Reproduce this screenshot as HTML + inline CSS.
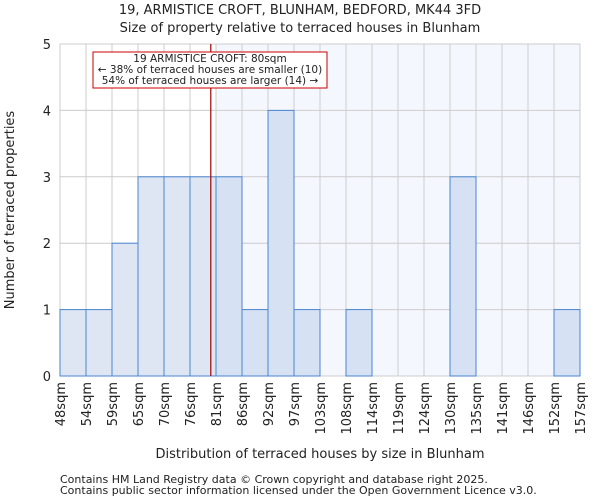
<!DOCTYPE html>
<html><head><meta charset="utf-8"><style>
body{margin:0;background:#fff;font-family:"DejaVu Sans","Liberation Sans",sans-serif}
svg text{font-family:"DejaVu Sans","Liberation Sans",sans-serif;fill:#222}
</style></head><body>
<svg id="c" width="600" height="500"></svg>
<script>
const categories=["48sqm","54sqm","59sqm","65sqm","70sqm","76sqm","81sqm","86sqm","92sqm","97sqm","103sqm","108sqm","114sqm","119sqm","124sqm","130sqm","135sqm","141sqm","146sqm","152sqm","157sqm"];
const counts=[1,1,2,3,3,3,3,1,4,1,0,1,0,0,0,3,0,0,0,1];
const yTicks=[0,1,2,3,4,5];
const propertyBinPos=5.8;
const ns="http://www.w3.org/2000/svg";
const svg=document.getElementById('c');
const L=60,R=580,T=44,B=376,yMax=5;
const bw=(R-L)/counts.length;
const xs=i=>L+i*bw, ys=v=>B-(v/yMax)*(B-T);
function el(t,a,p){const e=document.createElementNS(ns,t);for(const k in a)e.setAttribute(k,a[k]);(p||svg).appendChild(e);return e;}
const shadeX=xs(Math.ceil(propertyBinPos));
let bg=el('rect',{x:shadeX,y:T,width:R-shadeX,height:B-T,fill:'#f5f7fe'});


for(let i=0;i<=counts.length;i++){let g=el('line',{x1:xs(i),x2:xs(i),y1:T,y2:B,stroke:'#cccccc'});

}
yTicks.forEach(v=>{let g=el('line',{x1:L,x2:R,y1:ys(v),y2:ys(v),stroke:'#cccccc'});


let t=el('text',{x:L-9,y:ys(v)+5,'text-anchor':'end','font-size':13});t.textContent=v;

});
counts.forEach((v,i)=>{if(!v)return;let r=el('rect',{x:xs(i),y:ys(v),width:bw,height:B-ys(v),fill:i<Math.ceil(propertyBinPos)?'#dfe6f3':'#d6e1f3',stroke:'#4a86d0','stroke-width':1});

});
categories.forEach((c,i)=>{let t=el('text',{transform:`translate(${xs(i)+5},382) rotate(-90)`,'text-anchor':'end','font-size':13});t.textContent=c;

});
let ml=el('line',{x1:xs(propertyBinPos),x2:xs(propertyBinPos),y1:T,y2:B,stroke:'#a00000','stroke-width':1.2});


</script>
<svg style="position:absolute;left:0;top:0" width="600" height="500">
<text x="300" y="14" text-anchor="middle" font-size="13">19, ARMISTICE CROFT, BLUNHAM, BEDFORD, MK44 3FD</text>
<text x="300" y="32" text-anchor="middle" font-size="13">Size of property relative to terraced houses in Blunham</text>
<rect x="93" y="52" width="234" height="36" fill="#fff" stroke="#cc0000"/>
<text x="210" y="62" text-anchor="middle" font-size="10.5">19 ARMISTICE CROFT: 80sqm</text>
<text x="210" y="73" text-anchor="middle" font-size="10.5">← 38% of terraced houses are smaller (10)</text>
<text x="210" y="84" text-anchor="middle" font-size="10.5">54% of terraced houses are larger (14) →</text>
<text transform="translate(14,210) rotate(-90)" text-anchor="middle" font-size="13">Number of terraced properties</text>
<text x="320" y="458" text-anchor="middle" font-size="13">Distribution of terraced houses by size in Blunham</text>
<text x="60" y="483" font-size="11" fill="#555">Contains HM Land Registry data © Crown copyright and database right 2025.</text>
<text x="60" y="494" font-size="11" fill="#555">Contains public sector information licensed under the Open Government Licence v3.0.</text>
</svg>
</body></html>
